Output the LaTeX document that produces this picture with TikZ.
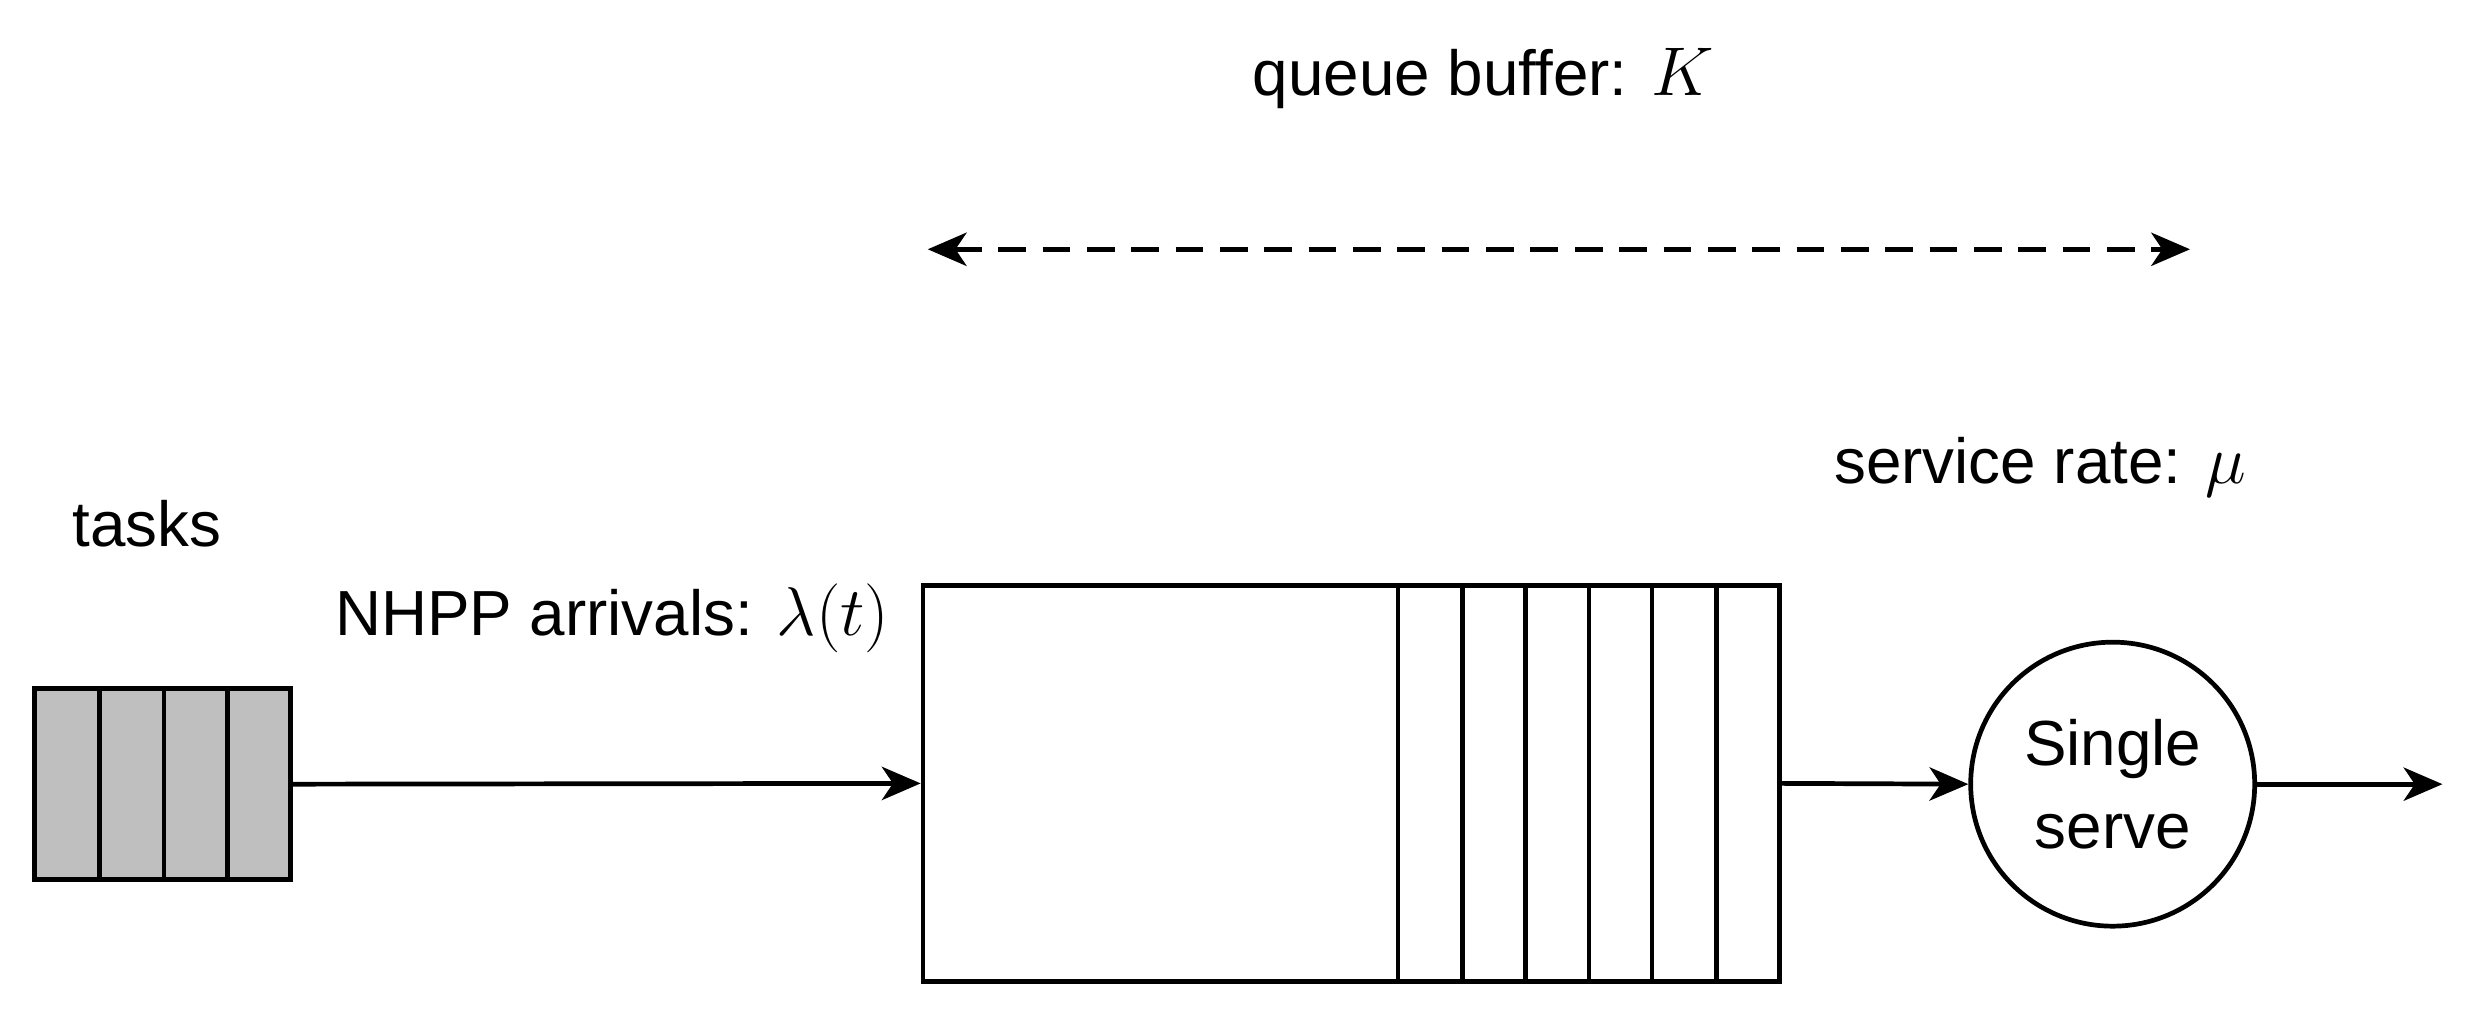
\documentclass[tikz,border=0pt]{standalone}
\usepackage{fontspec}
\setmainfont{Liberation Sans}
\usetikzlibrary{arrows.meta}
\begin{document}
\begin{tikzpicture}[x=0.02cm,y=-0.02cm,line width=1.7pt,
  lbl/.style={font=\fontsize{23}{28}\selectfont,inner sep=0pt},
  arr/.style={-{Stealth[length=14pt,width=12pt,inset=4pt]}}]
\useasboundingbox (0,0) rectangle (1568,648);
\node[lbl] (t) at (93,332) {tasks};
\node[draw,fill=black!25,minimum width=162*0.02cm,minimum height=121*0.02cm,inner sep=0pt] (tb) at (103,497) {};
\foreach \x in {63,104,144}{\draw (\x,436) -- (\x,557);}
\node[draw,minimum width=543*0.02cm,minimum height=251*0.02cm,inner sep=0pt] (q) at (856.5,496.5) {};
\foreach \x in {886,927,967,1007,1047,1088}{\draw (\x,371) -- (\x,622);}
\node[draw,circle,minimum size=180*0.02cm,inner sep=0pt,lbl,align=center] (s) at (1339,497) {Single\\[2pt]serve};
\coordinate (out) at (1548,497);
\draw[arr] (tb.east) -- (q.west);
\draw[arr] (q.east) -- (s.west);
\draw[arr] (s.east) -- (out);
\node[lbl] (n) at (388,392) {NHPP arrivals: \fontsize{27}{30}\selectfont$\lambda(t)$};
\coordinate (d1) at (588,158); \coordinate (d2) at (1388,158);
\draw[dashed,dash pattern=on 10pt off 6pt,{Stealth[length=14pt,width=12pt,inset=4pt]}-{Stealth[length=14pt,width=12pt,inset=4pt]}] (d1) -- (d2);
\node[lbl] (k) at (940,50) {queue buffer: \fontsize{27}{30}\selectfont$K$};
\node[lbl] (m) at (1293,296) {service rate: \fontsize{27}{30}\selectfont$\mu$};
\end{tikzpicture}
\end{document}
